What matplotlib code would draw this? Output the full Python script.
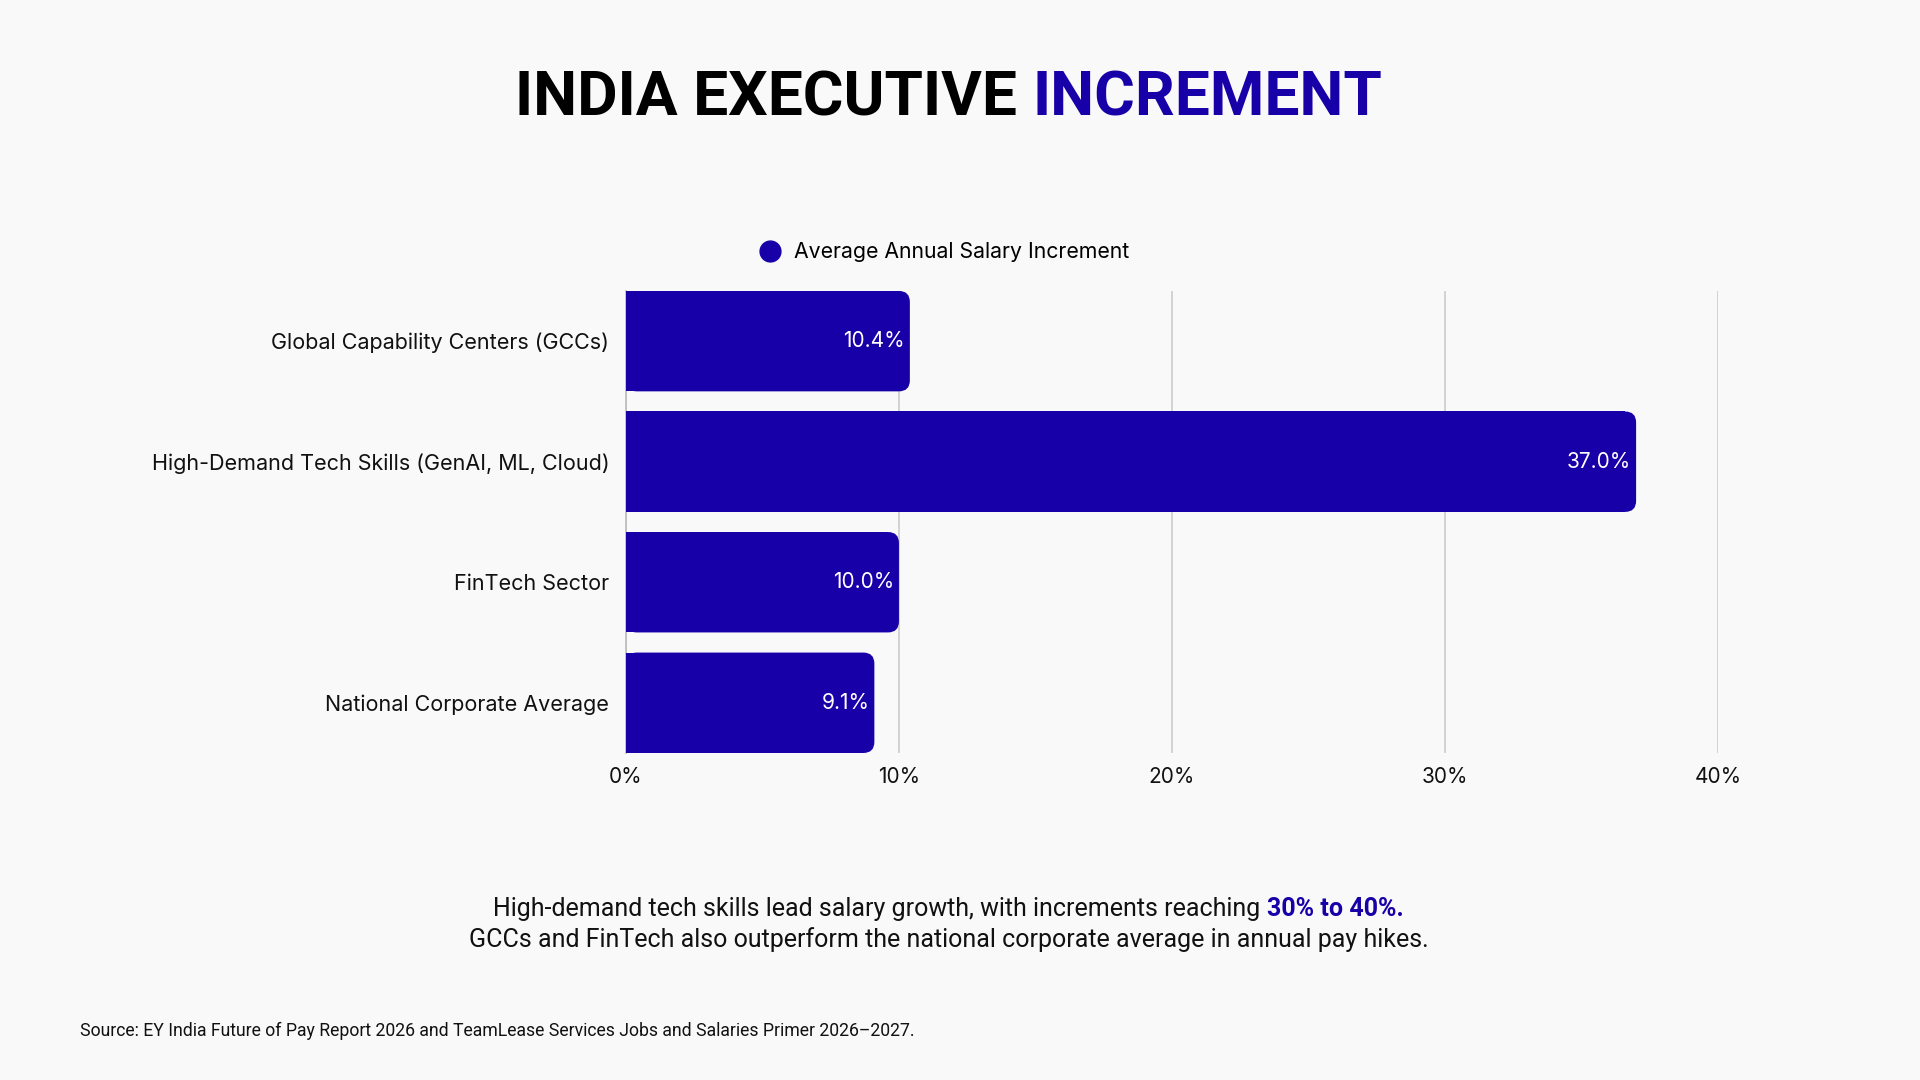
import matplotlib
matplotlib.use("Agg")
import matplotlib.pyplot as plt
from matplotlib import font_manager
from matplotlib.patches import FancyBboxPatch
from matplotlib.lines import Line2D

categories = ["Global Capability Centers (GCCs)",
              "High-Demand Tech Skills (GenAI, ML, Cloud)",
              "FinTech Sector",
              "National Corporate Average"]
values = [10.4, 37.0, 10.0, 9.1]
xticks = [0, 10, 20, 30, 40]
series_name = "Average Annual Salary Increment"

BLUE = "#1800A8"
BG = "#F9F9F9"

names = {f.name for f in font_manager.fontManager.ttflist}
def pick(*fams):
    for f in fams:
        if f in names:
            return f
    return "DejaVu Sans"

body = pick("Inter", "Noto Sans", "DejaVu Sans")
head = pick("Roboto", "Liberation Sans", "DejaVu Sans")

fig = plt.figure(figsize=(19.2, 10.8), dpi=100, facecolor=BG)
ax = fig.add_axes([0.326, 0.3028, 0.5688, 0.4278])
ax.set_facecolor(BG)

bh = 0.833
ax.set_xlim(0, 40)
ax.set_ylim(len(categories) - 1 + bh / 2, -bh / 2)

# rounded right end: radius in pixels -> data units
pos = ax.get_position()
ax_w_px = pos.width * 1920
ax_h_px = pos.height * 1080
r_px = 11
rx = r_px * 40 / ax_w_px
ry = r_px * (len(categories) - 1 + bh) / ax_h_px

for i, v in enumerate(values):
    ax.barh(i, v - rx, height=bh, color=BLUE, zorder=3)
    p = FancyBboxPatch((0, i - bh / 2), v, bh,
                       boxstyle=f"round,pad=0,rounding_size={rx}",
                       mutation_aspect=ry / rx, fc=BLUE, ec="none", zorder=3)
    ax.add_patch(p)
    ax.annotate(f"{v:.1f}%", xy=(v, i), xytext=(-5, 0), textcoords="offset pixels",
                ha="right", va="center", color="white", fontsize=15, family=body, zorder=4)

ax.set_yticks(range(len(categories)))
ax.set_yticklabels(categories, fontsize=15.5, family=body, color="#111111")
ax.set_xticks(xticks)
ax.set_xticklabels([f"{t}%" for t in xticks], fontsize=15, family=body, color="#111111")
ax.tick_params(length=0)
ax.tick_params(axis="y", pad=12)
ax.tick_params(axis="x", pad=10)
for s in ["top", "right", "bottom"]:
    ax.spines[s].set_visible(False)
ax.spines["left"].set_color("#BBBBBB")
ax.spines["left"].set_linewidth(1.2)
ax.grid(axis="x", color="#CCCCCC", linewidth=1.2, zorder=0)
ax.set_axisbelow(True)

handle = Line2D([], [], marker="o", color=BLUE, linestyle="none", markersize=15)
fig.legend([handle], [series_name], loc="center", bbox_to_anchor=(0.489, 1 - 252 / 1080),
           frameon=False, prop={"family": body, "size": 15.3}, handletextpad=0.1)

renderer = fig.canvas.get_renderer()

def two_part(x, y, a, b, size, family, wa, wb, ca, cb):
    t1 = fig.text(x, y, a, fontsize=size, family=family, weight=wa, color=ca, va="center")
    t2 = fig.text(x, y, b, fontsize=size, family=family, weight=wb, color=cb, va="center")
    w1 = t1.get_window_extent(renderer).width
    w2 = t2.get_window_extent(renderer).width
    left = x * 1920 - (w1 + w2) / 2
    t1.set_x(left / 1920)
    t2.set_x((left + w1) / 1920)

two_part(0.494, 1 - 99 / 1080, "INDIA EXECUTIVE ", "INCREMENT", 44.8, head,
         "bold", "bold", "#000000", BLUE)
two_part(0.494, 1 - 909 / 1080,
         "High-demand tech skills lead salary growth, with increments reaching ",
         "30% to 40%.", 18, head, "normal", "bold", "#111111", BLUE)
fig.text(0.494, 1 - 940 / 1080,
         "GCCs and FinTech also outperform the national corporate average in annual pay hikes.",
         fontsize=18, family=head, color="#111111", ha="center", va="center")
fig.text(80 / 1920, 1 - 1031 / 1080,
         "Source: EY India Future of Pay Report 2026 and TeamLease Services Jobs and Salaries Primer 2026\u20132027.",
         fontsize=12.7, family=head, color="#111111", ha="left", va="center")

fig.savefig("out.png", dpi=100, facecolor=BG)
